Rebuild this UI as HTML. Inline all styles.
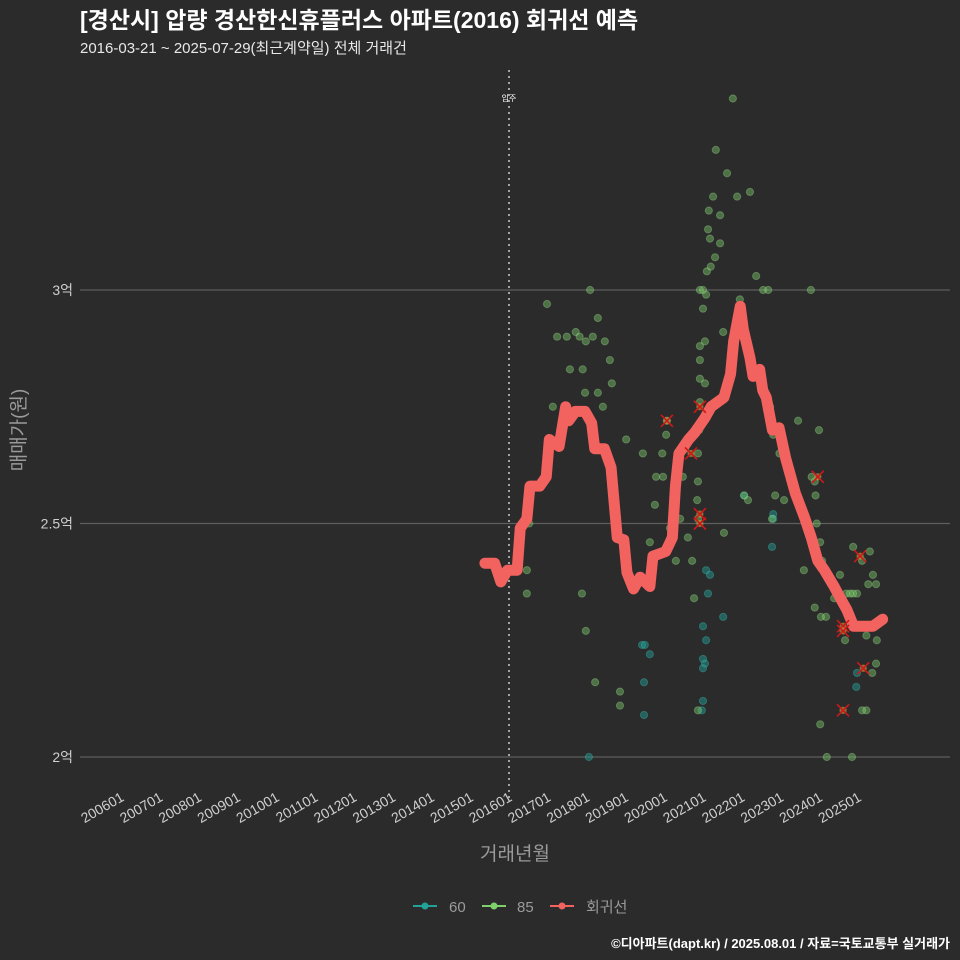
<!DOCTYPE html>
<html><head><meta charset="utf-8"><style>
html,body{margin:0;padding:0;background:#2b2b2c;}
svg{display:block;font-family:"Liberation Sans","Noto Sans CJK KR",sans-serif;}
</style></head><body>
<svg id="chart" width="960" height="960" viewBox="0 0 960 960">
<rect width="960" height="960" fill="#2b2b2c"/>
<text x="80" y="28" fill="#ffffff" font-size="23" font-weight="bold">[경산시] 압량 경산한신휴플러스 아파트(2016) 회귀선 예측</text>
<text x="80" y="53" fill="#e8e8e8" font-size="15">2016-03-21 ~ 2025-07-29(최근계약일) 전체 거래건</text>
<g id="grid"></g>
<g id="xaxis"></g>
<g id="yaxis"></g>
<g id="points"></g>
<g id="line"></g>
<g id="cancel"></g>
<text x="25" y="430" fill="#9a9a9a" font-size="19" transform="rotate(-90 25 430)" text-anchor="middle">매매가(원)</text>
<text x="515" y="860" fill="#9a9a9a" font-size="19" text-anchor="middle">거래년월</text>
<g>
 <g><line x1="413" y1="906" x2="437" y2="906" stroke="#22a39a" stroke-width="2"/><circle cx="425" cy="906" r="3.5" fill="#22a39a"/><text x="449" y="912" fill="#9a9a9a" font-size="15">60</text></g>
 <g><line x1="482" y1="906" x2="506" y2="906" stroke="#7fd06c" stroke-width="2"/><circle cx="494" cy="906" r="3.5" fill="#7fd06c"/><text x="517" y="912" fill="#9a9a9a" font-size="15">85</text></g>
 <g><line x1="550" y1="906" x2="574" y2="906" stroke="#f2625f" stroke-width="2"/><circle cx="562" cy="906" r="3.5" fill="#f2625f"/><text x="586" y="912" fill="#9a9a9a" font-size="15">회귀선</text></g>
</g>
<text x="950" y="948" fill="#ffffff" font-size="13" font-weight="bold" text-anchor="end">©디아파트(dapt.kr) / 2025.08.01 / 자료=국토교통부 실거래가</text>
</svg>
<script>
const xTicks=["200601","200701","200801","200901","201001","201101","201201","201301","201401","201501","201601","201701","201801","201901","202001","202101","202201","202301","202401","202501"];
const yTicks=[2,2.5,3];
const yTickLabels=["2억","2.5억","3억"];
const lineDates=[2015.38,2015.63,2015.79,2015.96,2016.21,2016.29,2016.46,2016.54,2016.79,2016.96,2017.04,2017.29,2017.46,2017.54,2017.71,2017.96,2018.13,2018.21,2018.46,2018.63,2018.79,2018.96,2019.04,2019.21,2019.38,2019.63,2019.71,2020.04,2020.21,2020.29,2020.38,2020.63,2020.79,2021.04,2021.21,2021.54,2021.71,2021.79,2021.96,2022.04,2022.21,2022.29,2022.46,2022.54,2022.63,2022.79,2022.96,2023.13,2023.38,2023.63,2023.79,2023.96,2024.13,2024.38,2024.54,2024.71,2024.88,2025.04,2025.38,2025.63];
const lineValues=[2.415,2.415,2.375,2.40,2.40,2.49,2.51,2.58,2.58,2.60,2.68,2.665,2.75,2.72,2.74,2.74,2.715,2.66,2.66,2.62,2.47,2.465,2.395,2.36,2.385,2.365,2.43,2.44,2.47,2.58,2.65,2.68,2.695,2.725,2.75,2.77,2.82,2.89,2.965,2.915,2.855,2.815,2.83,2.785,2.77,2.70,2.705,2.64,2.565,2.51,2.47,2.42,2.40,2.365,2.34,2.315,2.28,2.28,2.28,2.295];
const p85Dates=[2016.52,2016.46,2016.46,2016.98,2017.13,2017.24,2017.49,2017.57,2017.72,2017.82,2017.90,2017.98,2018.09,2018.16,2018.29,2018.42,2018.29,2018.47,2018.60,2018.65,2017.96,2017.98,2017.88,2018.22,2018.86,2018.86,2019.02,2019.45,2019.63,2019.76,2019.79,2019.97,2019.95,2020.05,2020.07,2020.15,2020.20,2020.30,2020.41,2020.48,2020.54,2020.61,2020.72,2020.77,2020.87,2020.87,2020.85,2020.87,2020.87,2020.90,2020.92,2020.92,2020.92,2020.92,2020.92,2021.0,2021.0,2021.05,2021.05,2021.08,2021.10,2021.13,2021.15,2021.18,2021.20,2021.26,2021.31,2021.33,2021.44,2021.44,2021.52,2021.62,2021.54,2021.77,2021.88,2021.95,2022.06,2022.16,2022.21,2022.37,2022.55,2022.68,2022.73,2022.81,2022.78,2022.86,2022.97,2023.09,2023.45,2023.60,2023.78,2023.80,2023.88,2023.90,2023.93,2023.99,2024.02,2024.07,2023.88,2024.04,2024.02,2024.17,2024.38,2024.53,2024.59,2024.66,2024.69,2024.79,2024.87,2024.87,2024.97,2025.05,2025.10,2025.21,2025.26,2025.30,2025.38,2025.46,2025.48,2025.46,2025.36,2025.21,2025.10,2024.84,2024.19];
const p85Values=[2.50,2.40,2.35,2.97,2.75,2.90,2.90,2.83,2.91,2.90,2.83,2.89,3.00,2.90,2.94,2.75,2.78,2.89,2.85,2.80,2.78,2.27,2.35,2.16,2.11,2.14,2.68,2.65,2.46,2.54,2.60,2.60,2.65,2.69,2.72,2.49,2.47,2.42,2.51,2.60,2.66,2.47,2.42,2.34,2.10,2.51,2.55,2.59,2.65,2.70,2.76,2.81,2.85,2.88,3.00,3.00,2.96,2.89,2.80,2.99,3.04,3.13,3.17,3.11,3.05,3.20,3.07,3.30,3.10,3.16,2.91,3.25,2.48,3.41,3.20,2.98,2.56,2.55,3.21,3.03,3.00,3.00,2.75,2.69,2.51,2.56,2.65,2.55,2.72,2.40,3.00,2.60,2.59,2.56,2.50,2.70,2.46,2.42,2.32,2.30,2.07,2.30,2.34,2.39,2.34,2.25,2.35,2.35,2.45,2.35,2.35,2.28,2.42,2.26,2.37,2.44,2.39,2.37,2.25,2.20,2.18,2.10,2.10,2.00,2.00];
const p60Dates=[2018.06,2019.43,2019.50,2019.48,2019.48,2019.63,2021.08,2021.18,2021.13,2021.0,2021.08,2021.0,2021.05,2021.0,2021.0,2020.97,2021.52,2022.06,2022.81,2022.81,2022.78,2024.95,2024.97];
const p60Values=[2.00,2.24,2.24,2.16,2.09,2.22,2.40,2.39,2.35,2.28,2.25,2.21,2.20,2.19,2.12,2.10,2.30,2.56,2.52,2.51,2.45,2.15,2.18];
const cancelDates=[2020.07,2020.69,2020.92,2020.92,2020.92,2023.96,2025.05,2024.61,2024.61,2025.13,2024.61];
const cancelValues=[2.72,2.65,2.75,2.52,2.50,2.60,2.43,2.28,2.27,2.19,2.10];
const moveInYear=2016.0;

const NS="http://www.w3.org/2000/svg";
const X0=80,X1=950;
function xScale(yr){return 121+(yr-2006)*38.8;}
function yScale(v){return 757-(v-2)*467;}
function mk(tag,attrs,parent){const e=document.createElementNS(NS,tag);for(const k in attrs)e.setAttribute(k,attrs[k]);parent.appendChild(e);return e;}
const grid=document.getElementById('grid'),xa=document.getElementById('xaxis'),ya=document.getElementById('yaxis');
yTicks.forEach((t,i)=>{
 const l=mk('line',{x1:X0,x2:X1,y1:yScale(t),y2:yScale(t),stroke:'#5e5e5e','stroke-width':1.2},grid);
 
 
 const tx=mk('text',{x:73,y:yScale(t)+5,fill:'#cfcfcf','font-size':14,'text-anchor':'end'},ya);
 tx.textContent=yTickLabels[i];
 
 
});
xTicks.forEach(t=>{
 const yr=+t.slice(0,4)+(+t.slice(4)-1)/12;
 const x=xScale(yr);
 const tx=mk('text',{x:x+4,y:800,fill:'#cfcfcf','font-size':14,'text-anchor':'end',transform:`rotate(-30 ${x+4} 800)`},xa);
 tx.textContent=t;
 
 
});
const mx=xScale(moveInYear);
const ml=mk('line',{x1:mx,x2:mx,y1:70,y2:800,stroke:'#cccccc','stroke-width':1.5,'stroke-dasharray':'2,4'},grid);


const mt=mk('text',{x:mx,y:101,fill:'#ffffff','font-size':8,'text-anchor':'middle'},grid);
mt.textContent='입주';



const pts=document.getElementById('points');
p60Dates.forEach((d,i)=>{
 const c=mk('circle',{cx:xScale(d),cy:yScale(p60Values[i]),r:3.6,fill:'#22a39a','fill-opacity':0.45,stroke:'#3fbfb5','stroke-opacity':0.35},pts);
 
 
});
p85Dates.forEach((d,i)=>{
 const c=mk('circle',{cx:xScale(d),cy:yScale(p85Values[i]),r:3.6,fill:'#7fd06c','fill-opacity':0.42,stroke:'#9fe08c','stroke-opacity':0.35},pts);
 
 
});
const lg=document.getElementById('line');
const p=mk('polyline',{points:lineDates.map((d,i)=>xScale(d)+','+yScale(lineValues[i])).join(' '),fill:'none',stroke:'#f2625f','stroke-width':11,'stroke-linejoin':'round','stroke-linecap':'round'},lg);


const cg=document.getElementById('cancel');
cancelDates.forEach((d,i)=>{
 const x=xScale(d),y=yScale(cancelValues[i]);
 const g=mk('g',{},cg);
 
 
 mk('circle',{cx:x,cy:y,r:3.6,fill:'#c8a040','fill-opacity':0.6},g);
 mk('path',{d:`M${x-6},${y-6}L${x+6},${y+6}M${x+6},${y-6}L${x-6},${y+6}`,stroke:'#d01818','stroke-width':1.6},g);
});
</script>
</body></html>
